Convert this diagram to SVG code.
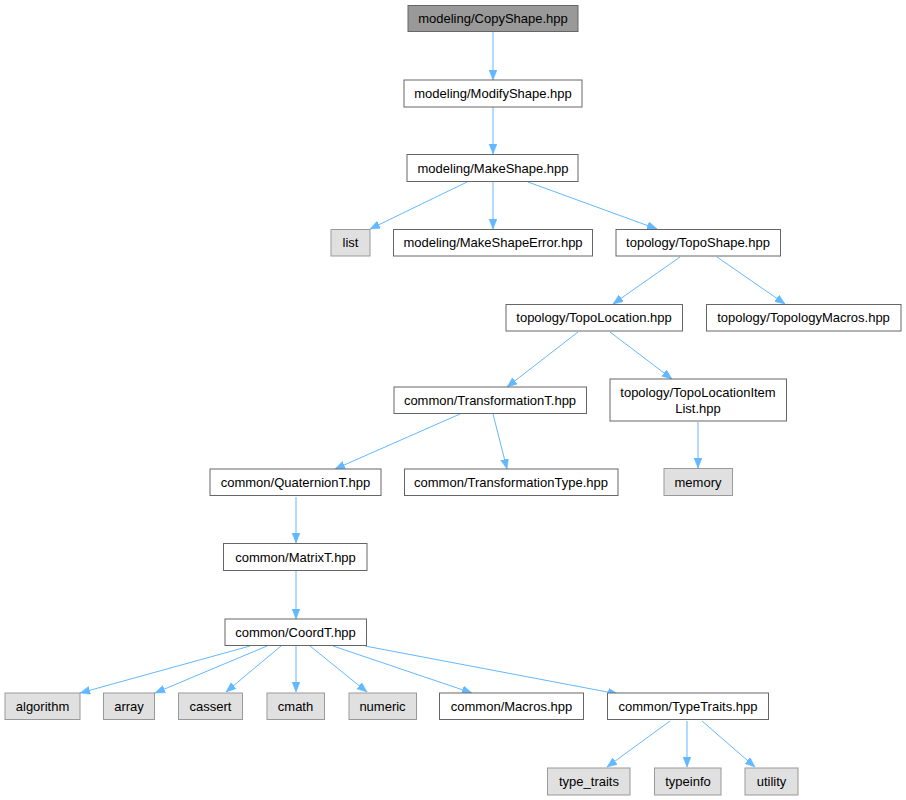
<svg xmlns="http://www.w3.org/2000/svg" width="906" height="800" viewBox="0 0 906 800">
<style>
.n rect{fill:#ffffff;stroke:#666666;stroke-width:1}
.n.root rect{fill:#999999;stroke:#666666}
.n.ext rect{fill:#e0e0e0;stroke:#999999}
.n text{font-family:"Liberation Sans",Arial,sans-serif;font-size:13px;fill:#000000;text-anchor:middle}
#edges path{fill:none;stroke:#63b8ff;stroke-width:1;marker-end:url(#arr)}
</style>
<defs>
<marker id="arr" markerUnits="userSpaceOnUse" markerWidth="12" markerHeight="9" refX="10" refY="4" orient="auto">
<path d="M0,0 L10,4 L0,8 z" fill="#63b8ff" stroke="#63b8ff" stroke-width="0.5"/>
</marker>
</defs>
<rect width="906" height="800" fill="#ffffff"/>
<g id="edges">
<path d="M493,32 L493,80"/>
<path d="M493,107 L493,154"/>
<path d="M467,182 L370,229"/>
<path d="M493,182 L493,229"/>
<path d="M528,182 L657,229"/>
<path d="M680,257 L613,304"/>
<path d="M717,257 L785,304"/>
<path d="M578,332 L507,387"/>
<path d="M610,332 L672,379"/>
<path d="M698,422 L698,468"/>
<path d="M460,414 L335,469"/>
<path d="M493,414 L507,469"/>
<path d="M296,497 L296,543"/>
<path d="M296,571 L296,619"/>
<path d="M250,646 L80,693"/>
<path d="M267,646 L155,693"/>
<path d="M281,646 L226,692"/>
<path d="M296,646 L296,692"/>
<path d="M310,646 L367,692"/>
<path d="M333,646 L472,693"/>
<path d="M365,646 L618,694"/>
<path d="M670,721 L607,767"/>
<path d="M687,721 L687,767"/>
<path d="M702,721 L755,767"/>
</g>
<g id="n_copyshape" class="n root"><rect x="408" y="5.5" width="170" height="26"/><text x="493" y="23">modeling/CopyShape.hpp</text></g>
<g id="n_modifyshape" class="n"><rect x="404" y="80" width="178" height="27"/><text x="493" y="98">modeling/ModifyShape.hpp</text></g>
<g id="n_makeshape" class="n"><rect x="407" y="154.5" width="171" height="27"/><text x="493" y="172.5">modeling/MakeShape.hpp</text></g>
<g id="n_list" class="n ext"><rect x="331" y="229.5" width="39" height="26.5"/><text x="350.5" y="247">list</text></g>
<g id="n_makeshapeerror" class="n"><rect x="393.5" y="229.5" width="199" height="26.5"/><text x="493" y="247">modeling/MakeShapeError.hpp</text></g>
<g id="n_toposhape" class="n"><rect x="616" y="229.5" width="164.5" height="26.5"/><text x="698" y="247">topology/TopoShape.hpp</text></g>
<g id="n_topolocation" class="n"><rect x="506" y="304.5" width="176.5" height="26.5"/><text x="594" y="322">topology/TopoLocation.hpp</text></g>
<g id="n_topologymacros" class="n"><rect x="706.5" y="304.5" width="194.5" height="26.5"/><text x="803.5" y="322">topology/TopologyMacros.hpp</text></g>
<g id="n_transformationt" class="n"><rect x="394" y="387" width="192.5" height="26.5"/><text x="490" y="404.5">common/TransformationT.hpp</text></g>
<g id="n_itemlist" class="n"><rect x="610" y="379" width="176.5" height="42"/><text x="698" y="397">topology/TopoLocationItem</text><text x="698" y="413">List.hpp</text></g>
<g id="n_memory" class="n ext"><rect x="664" y="468.5" width="68.5" height="27"/><text x="698" y="486.5">memory</text></g>
<g id="n_quaterniont" class="n"><rect x="210" y="469" width="171" height="26.5"/><text x="295.5" y="486.5">common/QuaternionT.hpp</text></g>
<g id="n_transformationtype" class="n"><rect x="404.5" y="469" width="213.5" height="26.5"/><text x="511" y="486.5">common/TransformationType.hpp</text></g>
<g id="n_matrixt" class="n"><rect x="223.5" y="543.5" width="143.5" height="27"/><text x="295.5" y="561.5">common/MatrixT.hpp</text></g>
<g id="n_coordt" class="n"><rect x="225" y="619" width="141.5" height="26.5"/><text x="295.5" y="636.5">common/CoordT.hpp</text></g>
<g id="n_algorithm" class="n ext"><rect x="5" y="693" width="75" height="26.5"/><text x="42.5" y="710.5">algorithm</text></g>
<g id="n_array" class="n ext"><rect x="103.5" y="693" width="51" height="26.5"/><text x="129" y="710.5">array</text></g>
<g id="n_cassert" class="n ext"><rect x="178.5" y="693" width="64" height="26.5"/><text x="210.5" y="710.5">cassert</text></g>
<g id="n_cmath" class="n ext"><rect x="267" y="693" width="57.5" height="26.5"/><text x="295.5" y="710.5">cmath</text></g>
<g id="n_numeric" class="n ext"><rect x="349" y="693" width="67.5" height="26.5"/><text x="382.5" y="710.5">numeric</text></g>
<g id="n_macros" class="n"><rect x="439.5" y="693" width="144" height="26.5"/><text x="511.5" y="710.5">common/Macros.hpp</text></g>
<g id="n_typetraits" class="n"><rect x="607.5" y="693" width="161" height="26.5"/><text x="688" y="710.5">common/TypeTraits.hpp</text></g>
<g id="n_type_traits" class="n ext"><rect x="547.5" y="768" width="82.5" height="27"/><text x="589" y="786">type_traits</text></g>
<g id="n_typeinfo" class="n ext"><rect x="654.5" y="768" width="66.5" height="27"/><text x="688" y="786">typeinfo</text></g>
<g id="n_utility" class="n ext"><rect x="745" y="768" width="53" height="27"/><text x="771.5" y="786">utility</text></g>
</svg>
